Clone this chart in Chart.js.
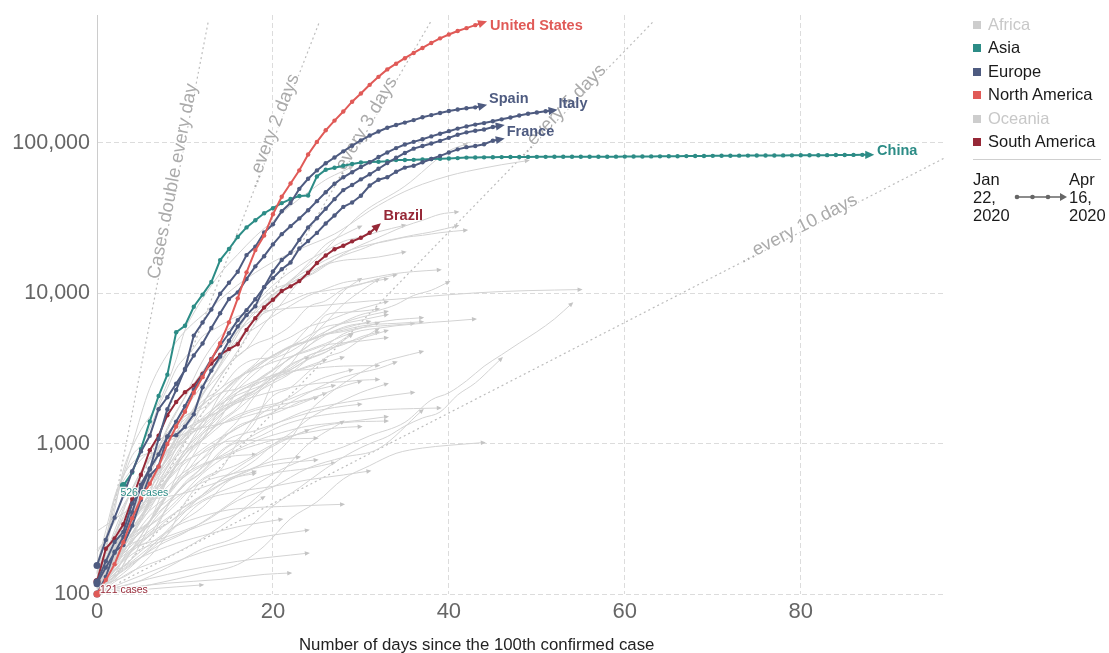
<!DOCTYPE html>
<html>
<head>
<meta charset="utf-8">
<title>Confirmed COVID-19 cases since the 100th case</title>
<script src="https://cdn.jsdelivr.net/npm/chart.js@4.4.1/dist/chart.umd.min.js"></script>
<style>
  body { margin: 0; background: #fff; font-family: "Liberation Sans", Arial, sans-serif; }
  #wrap { position: relative; width: 1109px; height: 653px; overflow: hidden; }
  #chart { position: absolute; left: 0; top: 0; }
  .key { position: absolute; left: 973px; font-size: 16.5px; line-height: 20px; color: #1a1a1a; white-space: nowrap; }
  .key i { display: inline-block; width: 8px; height: 8px; margin-right: 7px; vertical-align: 1px; }
  .key.off { color: #c8c8c8; }
  #sep { position: absolute; left: 973px; top: 159px; width: 128px; height: 1px; background: #cfcfcf; }
  .date { position: absolute; top: 170px; font-size: 16.5px; line-height: 18px; color: #1a1a1a; }
  #timeline { position: absolute; left: 1010px; top: 190px; }
  #xtitle { position: absolute; left: 299px; top: 635px; font-size: 16.8px; line-height: 20px; color: #222; white-space: nowrap; }
</style>
</head>
<body>
<div id="wrap">
  <canvas id="chart" width="1109" height="653"></canvas>
  <div id="legend"></div>
  <div id="sep"></div>
  <div class="date" style="left:973px">Jan<br>22,<br>2020</div>
  <svg id="timeline" width="60" height="14">
    <line x1="5" y1="7" x2="52" y2="7" stroke="#666" stroke-width="1.5"/>
    <circle cx="7" cy="7" r="2.3" fill="#666"/>
    <circle cx="22.5" cy="7" r="2.3" fill="#666"/>
    <circle cx="38" cy="7" r="2.3" fill="#666"/>
    <polygon points="50,3 57,7 50,11" fill="#666"/>
  </svg>
  <div class="date" style="left:1069px">Apr<br>16,<br>2020</div>
  <div id="xtitle">Number of days since the 100th confirmed case</div>
</div>
<script>
// axis ranges and ticks
const dayMax = 96.4;
const casesMin = 100;
const casesMax = 710000;
const xTickValues = [0, 20, 40, 60, 80];
const yTickValues = [100, 1000, 10000, 100000];

// highlighted countries, one value per day since the 100th case
const usCases = [100,124,158,221,319,435,541,704,994,1301,1630,2183,2770,3613,4661,6411,9259,13789,19383,24207,33566,43847,53740,65778,83836,101657,121478,140886,161807,188172,213242,243622,275367,308650,336802,366317,397121,428654,462780,496535,526396,555313,580619,607670,636350];
const spainCases = [120,165,222,259,400,500,673,1073,1695,2277,3146,5232,6391,7798,9942,11748,13910,17963,20410,25374,28768,35136,39885,49515,57786,65719,73235,80110,87956,95923,104118,112065,119199,126168,131646,136675,141942,148220,153222,158273,163027,166831,170099,172541,177644];
const italyCases = [155,229,322,453,655,888,1128,1694,2036,2502,3089,3858,4636,5883,7375,9172,10149,12462,15113,17660,21157,24747,27980,31506,35713,41035,47021,53578,59138,63927,69176,74386,80589,86498,92472,97689,101739,105792,110574,115242,119827,124632,128948,132547,135586,139422,143626,147577,152271,156363,159516,162488,165155];
const germanyCases = [117,150,188,240,349,534,684,847,1112,1139,1296,1567,2369,3062,3795,4838,6012,7156,8198,10999,13957,16662,18610,22672,27436,31554,36508,42288,48582,52547,57298,61913,67366,73522,79696,85778,91714,95391,99225,103228,108202,113525,117658,120479,123016,127584,130450];
const franceCases = [100,130,191,212,285,423,613,706,1116,1402,1774,2281,2876,3661,4499,5423,6633,7730,9134,10995,12612,14459,16018,19856,22304,25233,29155,32964,37575,40174,44550,52128,56989,59105,64338,68605,70478,74390,78167,82048,86334,90676,93790,95403,98076,103573,106206];
const chinaStartDay = 3;
const chinaCases = [526,643,920,1406,2075,2877,5509,6087,8141,9802,11891,16630,19716,23707,27440,30587,34110,36814,39829,42354,44386,44759,59895,66358,68413,70513,72434,74211,74619,75077,75550,77001,77022,77241,77754,78166,78600,78928,79356,79932,80136,80261,80386,80537,80690,80770,80823,80860,80887,80921,80932,80945,80977,81003,81033,81058,81102,81156,81250,81305,81435,81498,81591,81661,81782,81897,81999,82122,82198,82279,82361,82432,82511,82543,82602,82665,82718,82809,82883,82941,83014,83134,83213,83306,83356,83403];
const brazilCases = [121,200,234,291,428,621,904,1128,1546,1891,2201,2433,2915,3417,3904,4256,4579,5717,6836,8044,9056,10360,11130,12056,13717,15927,17857,19638,20727,22169,23430,25262,28320];

// the grey countries, [day, cases]
const otherCountries = [
  ['United Kingdom', [[0,115],[5,373],[10,1372],[15,3983],[20,9529],[25,17089],[30,33718],[35,51608],[40,88621],[42,98476]]],
  ['Iran', [[0,139],[2,388],[4,978],[6,2336],[9,4747],[13,8042],[16,11364],[20,16169],[23,19644],[27,24811],[29,29406],[31,35408],[33,41495],[35,47593],[37,53183],[40,60500],[42,64586],[44,68192],[46,71686],[49,76389]]],
  ['Turkey', [[0,100],[1,191],[2,359],[3,670],[4,947],[5,1236],[7,1872],[9,3629],[10,5698],[11,7402],[12,9217],[14,13531],[16,18135],[18,23934],[20,30217],[22,38226],[24,47029],[26,56956],[28,65111],[29,69392]]],
  ['Belgium', [[0,109],[3,267],[5,314],[7,689],[9,1085],[11,1486],[13,2257],[15,3401],[17,4269],[19,6235],[21,8605],[23,11899],[25,13964],[27,16770],[29,19691],[31,22194],[33,24983],[35,28018],[37,30589],[39,33573],[41,34809]]],
  ['Netherlands', [[0,128],[2,265],[4,503],[6,804],[8,1135],[10,1705],[12,2460],[14,3631],[16,5560],[18,7431],[20,9762],[22,11750],[24,13614],[26,15723],[28,17851],[30,19580],[32,21762],[34,23097],[36,24413],[38,25587],[41,28153]]],
  ['Switzerland', [[0,114],[3,264],[5,491],[7,652],[9,1139],[11,2200],[13,2742],[15,4222],[17,6575],[19,8795],[21,10897],[23,13213],[25,15475],[27,17768],[29,19606],[31,21100],[33,22242],[35,23574],[37,24308],[39,25300],[42,26336]]],
  ['Canada', [[0,103],[2,193],[4,304],[6,569],[8,873],[10,1328],[12,2091],[14,3409],[16,5655],[18,8527],[20,11283],[22,13912],[24,16563],[26,19141],[28,22148],[30,23719],[32,25680],[35,28364]]],
  ['Russia', [[0,114],[2,199],[4,306],[6,438],[8,658],[10,1036],[12,1836],[14,2777],[16,4149],[18,6343],[20,8672],[22,11917],[24,15770],[26,21102],[28,24490],[30,27938]]],
  ['Portugal', [[0,112],[2,169],[4,331],[6,642],[8,1280],[10,2060],[12,3544],[14,5170],[16,6408],[18,8251],[20,10524],[22,11730],[24,13141],[26,15472],[28,16585],[30,16934],[32,17448],[35,18841]]],
  ['Israel', [[0,143],[2,250],[4,427],[6,705],[8,1238],[10,2030],[12,3035],[14,4347],[16,5591],[18,6857],[20,7851],[22,8904],[24,9968],[26,10408],[28,10878],[30,11586],[33,12501]]],
  ['Austria', [[0,104],[2,182],[4,302],[6,655],[8,1016],[10,1646],[12,2814],[14,3582],[16,4876],[18,5888],[20,7029],[22,8271],[24,9618],[26,10711],[28,11781],[30,12297],[32,12942],[34,13555],[36,13945],[39,14336]]],
  ['Sweden', [[0,137],[2,248],[4,500],[6,814],[8,1022],[10,1167],[12,1279],[14,1623],[16,1934],[18,2510],[20,3069],[22,3700],[24,4435],[26,5568],[28,6443],[30,7206],[32,7693],[34,8419],[36,9685],[38,10483],[40,11927]]],
  ['Ireland', [[0,129],[2,169],[4,292],[6,557],[8,785],[10,1329],[12,2121],[14,2910],[16,3849],[18,4604],[20,5111],[22,6074],[24,8089],[26,8928],[28,10647],[30,11479],[32,12547],[34,13271]]],
  ['India', [[0,107],[2,137],[4,173],[6,283],[8,396],[10,536],[12,657],[14,887],[16,1071],[18,1397],[20,2543],[22,3374],[24,4778],[26,6412],[28,8446],[30,10363],[32,12380]]],
  ['Peru', [[0,117],[2,234],[4,318],[6,416],[8,580],[10,852],[12,1065],[14,1414],[16,1746],[18,2561],[20,3101],[22,4342],[24,5897],[26,7519],[28,10303],[30,12491]]],
  ['Ecuador', [[0,111],[2,199],[4,367],[6,532],[8,981],[10,1403],[12,1924],[14,2302],[16,3163],[18,3646],[20,3747],[22,4450],[24,4965],[26,7161],[28,7466],[30,7603],[32,7858]]],
  ['Chile', [[0,155],[2,201],[4,342],[6,537],[8,746],[10,1142],[12,1610],[14,2139],[16,2738],[18,3404],[20,4471],[22,5116],[24,5972],[26,6501],[28,7213],[30,7917],[33,8807]]],
  ['Poland', [[0,104],[2,177],[4,251],[6,425],[8,634],[10,901],[12,1389],[14,1862],[16,2311],[18,2946],[20,3627],[22,4102],[24,4848],[26,5575],[28,6356],[30,6934],[33,7582]]],
  ['Romania', [[0,123],[2,168],[4,246],[6,308],[8,576],[10,906],[12,1292],[14,2109],[16,2738],[18,3183],[20,3864],[22,4417],[24,5202],[26,5990],[28,6300],[30,6633],[33,7216]]],
  ['Saudi Arabia', [[0,103],[2,171],[4,274],[6,392],[8,562],[10,900],[12,1203],[14,1563],[16,1885],[18,2179],[20,2523],[22,2932],[24,3651],[26,4462],[28,5369],[30,5862],[32,6380]]],
  ['Pakistan', [[0,187],[2,302],[4,495],[6,776],[8,1179],[10,1526],[12,1717],[14,2118],[16,2686],[18,3277],[20,3864],[22,4413],[24,4788],[26,5374],[28,5837],[31,6505]]],
  ['Mexico', [[0,118],[2,164],[4,251],[6,367],[8,585],[10,848],[12,1094],[14,1378],[16,1688],[18,2143],[20,2785],[22,3181],[24,3844],[26,4219],[29,5399]]],
  ['Denmark', [[0,156],[1,264],[2,444],[3,617],[5,827],[7,875],[9,977],[11,1303],[13,1572],[15,2023],[17,2366],[19,2860],[21,3386],[23,4077],[25,4875],[27,5635],[29,6174],[31,6318],[34,6681],[37,6879]]],
  ['Norway', [[0,108],[2,176],[4,400],[6,621],[8,1090],[10,1256],[12,1423],[14,1742],[16,1926],[18,2263],[20,2916],[22,3755],[24,4196],[26,4641],[28,5208],[30,5640],[32,5865],[34,6086],[36,6244],[38,6409],[40,6525],[43,6740]]],
  ['Australia', [[0,107],[2,128],[4,200],[6,298],[8,452],[10,681],[12,1071],[14,1709],[16,2423],[18,3166],[20,3809],[22,4359],[24,4862],[26,5350],[28,5687],[30,6052],[32,6238],[34,6313],[37,6462]]],
  ['Czechia', [[0,116],[2,214],[4,298],[6,464],[8,694],[10,1047],[12,1394],[14,1925],[16,2631],[18,3308],[20,3858],[22,4472],[24,4822],[26,5312],[28,5569],[30,5902],[33,6111],[36,6303]]],
  ['Japan', [[0,105],[4,160],[7,210],[10,256],[14,360],[18,530],[21,675],[24,800],[28,950],[31,1128],[35,1387],[38,1953],[40,2178],[42,2617],[44,3271],[46,3906],[48,4667],[50,5548],[52,6748],[54,8582]]],
  ['South Korea', [[0,104],[1,204],[2,433],[3,602],[4,833],[5,977],[6,1261],[7,1766],[8,2337],[9,3150],[10,3736],[11,4335],[12,5186],[13,5621],[14,6088],[15,6593],[16,7041],[17,7314],[18,7478],[20,7755],[22,7979],[25,8236],[28,8565],[31,8897],[34,9137],[37,9478],[40,9786],[43,10062],[46,10284],[49,10423],[52,10512],[55,10591]]],
  ['Philippines', [[0,111],[2,142],[4,202],[6,230],[8,380],[10,552],[12,707],[14,1075],[16,1418],[18,2084],[20,2633],[22,3094],[24,3660],[26,4076],[28,4648],[30,5000],[33,5660]]],
  ['Indonesia', [[0,117],[2,172],[4,309],[6,450],[8,579],[10,790],[12,1155],[14,1528],[16,1986],[18,2273],[20,2738],[22,3293],[24,3842],[26,4241],[28,4557],[30,5136],[32,5516]]],
  ['Malaysia', [[0,197],[1,238],[2,428],[3,566],[4,673],[6,900],[8,1183],[10,1518],[12,1796],[14,2320],[16,2766],[18,3116],[20,3483],[22,3793],[24,4119],[26,4530],[28,4683],[30,4817],[33,5072]]],
  ['United Arab Emirates', [[0,113],[4,140],[8,248],[10,405],[12,570],[14,664],[16,1024],[18,1505],[20,2076],[22,2359],[24,2990],[26,3736],[28,4123],[30,4933],[32,5825]]],
  ['Qatar', [[0,262],[5,401],[10,470],[14,562],[18,693],[20,835],[22,1075],[24,1604],[26,2057],[28,2512],[30,2979],[32,3428],[34,3711],[37,4103]]],
  ['Serbia', [[0,103],[2,135],[4,222],[6,303],[8,457],[10,785],[12,1060],[14,1476],[16,2200],[18,2447],[20,2867],[22,3105],[24,3630],[26,4054],[29,5318]]],
  ['Singapore', [[0,106],[4,117],[8,150],[12,200],[16,243],[20,385],[23,509],[26,683],[29,879],[31,1000],[33,1114],[35,1309],[37,1481],[39,1623],[41,2108],[43,2532],[45,3252],[46,3699]]],
  ['Ukraine', [[0,113],[2,218],[4,356],[6,548],[8,804],[10,1225],[12,1462],[14,1668],[16,2203],[18,2511],[20,2777],[22,3372],[24,3764]]],
  ['Luxembourg', [[0,130],[2,203],[4,335],[6,670],[8,1099],[10,1453],[12,1831],[14,2178],[16,2319],[18,2612],[20,2843],[22,3034],[24,3115],[26,3223],[28,3281],[32,3307]]],
  ['Finland', [[0,155],[2,225],[4,272],[6,359],[8,450],[10,626],[12,880],[14,1041],[16,1313],[18,1446],[20,1615],[22,1882],[24,2176],[26,2487],[28,2769],[30,2974],[32,3161],[34,3489]]],
  ['Panama', [[0,137],[2,245],[4,345],[6,558],[8,786],[10,1075],[12,1317],[14,1673],[16,1988],[18,2249],[20,2752],[22,2974],[24,3234],[26,3472],[28,3751]]],
  ['Dominican Republic', [[0,112],[2,245],[4,392],[6,581],[8,901],[10,1109],[12,1488],[14,1828],[16,2111],[18,2349],[20,2620],[22,2967],[24,3286],[26,3614]]],
  ['Colombia', [[0,102],[2,145],[4,196],[6,306],[8,470],[10,608],[12,798],[14,1065],[16,1267],[18,1485],[20,1780],[22,2054],[24,2473],[26,2776],[29,3105]]],
  ['South Africa', [[0,116],[2,150],[4,240],[6,402],[8,709],[10,1170],[12,1280],[14,1353],[16,1462],[18,1585],[20,1686],[22,1749],[24,1934],[26,2173],[28,2415],[30,2605]]],
  ['Egypt', [[0,109],[2,126],[4,196],[6,256],[8,294],[10,366],[12,456],[14,576],[16,656],[18,779],[20,985],[22,1173],[24,1450],[26,1699],[28,1939],[30,2190],[33,2505]]],
  ['Algeria', [[0,139],[3,264],[6,409],[9,716],[12,1171],[15,1423],[18,1666],[21,1825],[24,1983],[26,2160]]],
  ['Morocco', [[0,115],[3,225],[6,402],[9,654],[12,919],[15,1184],[18,1448],[21,1661],[23,1888],[25,2024]]],
  ['Thailand', [[0,114],[2,177],[4,272],[6,411],[8,827],[10,1045],[12,1388],[14,1651],[16,1875],[18,2067],[20,2220],[22,2369],[24,2473],[26,2551],[28,2579],[30,2643],[32,2672]]],
  ['Argentina', [[0,128],[3,266],[6,502],[9,820],[12,1054],[15,1451],[18,1715],[21,1894],[24,2208],[27,2443]]],
  ['Greece', [[0,101],[3,190],[6,331],[9,464],[12,695],[15,892],[18,1156],[21,1415],[24,1673],[27,1832],[30,1955],[33,2081],[36,2192]]],
  ['Iceland', [[0,103],[3,199],[6,250],[9,473],[12,648],[15,963],[18,1086],[21,1319],[24,1486],[27,1586],[30,1648],[33,1689],[36,1711],[39,1727]]],
  ['Hong Kong', [[0,100],[6,115],[12,138],[16,157],[19,208],[22,317],[25,410],[28,582],[31,714],[34,862],[37,935],[40,975],[44,1017]]],
  ['Taiwan', [[0,108],[3,153],[6,215],[9,283],[12,329],[15,363],[18,376],[21,382],[24,388],[28,395]]],
  ['New Zealand', [[0,102],[3,262],[6,451],[9,708],[12,868],[15,1039],[18,1049],[21,1072],[25,1086]]],
  ['Lebanon', [[0,110],[4,157],[8,248],[12,412],[16,479],[20,520],[24,575],[28,619],[31,658]]],
  ['Kazakhstan', [[0,111],[4,228],[8,348],[12,584],[16,727],[20,990],[24,1232]]],
  ['Bulgaria', [[0,127],[4,201],[8,293],[12,422],[16,531],[20,635],[24,685],[27,747]]],
  ['Tunisia', [[0,114],[4,227],[8,394],[12,553],[16,643],[20,726],[25,780]]],
  ['Senegal', [[0,105],[4,162],[8,207],[12,244],[16,280],[21,314]]],
  ['Nigeria', [[0,111],[4,184],[8,232],[12,288],[16,343],[19,442]]],
  ['Ghana', [[0,137],[3,152],[6,205],[9,287],[12,378],[15,566],[18,636]]],
  ['Cameroon', [[0,113],[3,193],[6,306],[9,555],[12,730],[15,820],[18,848]]],
  ["Cote d'Ivoire", [[0,101],[3,168],[6,245],[9,349],[12,444],[15,574],[18,654]]],
  ['Cuba', [[0,119],[4,212],[8,320],[12,457],[16,620],[20,766],[23,814]]],
  ['Kuwait', [[0,100],[4,142],[8,176],[12,235],[16,343],[20,556],[24,993],[28,1405]]],
  ['Iraq', [[0,101],[4,154],[8,266],[12,458],[16,694],[20,961],[24,1232],[28,1378],[33,1415]]],
  ['Croatia', [[0,105],[3,206],[6,382],[9,586],[12,790],[15,1079],[18,1222],[21,1407],[24,1600],[27,1741],[30,1832]]],
  ['Slovenia', [[0,141],[3,219],[6,286],[9,414],[12,632],[15,841],[18,977],[21,1091],[24,1188],[27,1268],[30,1300]]],
  ['Estonia', [[0,115],[3,225],[6,306],[9,538],[12,715],[15,858],[18,1039],[21,1185],[24,1309],[27,1373],[30,1434],[33,1512]]],
  ['Bahrain', [[0,110],[4,195],[8,241],[12,298],[16,419],[20,515],[24,688],[28,811],[32,925],[37,1671]]],
  ['Brunei', [[0,100],[6,108],[12,115]]],
  ['Cambodia', [[0,104],[8,118],[14,125],[19,135],[22,138]]],
  ['Sri Lanka', [[0,102],[8,135],[16,165],[24,187]]],
  ['Jordan', [[0,101],[6,140],[12,190],[18,235],[24,266]]]
];

// doubling guide lines
const doublingDays = [1, 2, 3, 5, 10];
const guideTexts = ['Cases double every day', '...every 2 days', '...every 3 days', '...every 5 days', '...every 10 days'];
const guideLabelDays = [9.1, 20.4, 30.6, 53.1, 79.9];
const guideTop = 650000;

// legend
const regions = ['Africa', 'Asia', 'Europe', 'North America', 'Oceania', 'South America'];
const regionColors = ['#cdcdcd', '#2c8c86', '#4e5b80', '#e05a57', '#cdcdcd', '#962837'];
const regionMuted = [true, false, false, false, true, false];

const ASIA = regionColors[1], EUROPE = regionColors[2], NAM = regionColors[3], SAM = regionColors[5];
const GREY = '#d3d3d3';

const highlighted = [
  { name: 'United States', start: 0, values: usCases, color: NAM, dx: 6, dy: 4 },
  { name: 'Spain', start: 0, values: spainCases, color: EUROPE, dx: 5, dy: -6 },
  { name: 'Italy', start: 0, values: italyCases, color: EUROPE, dx: 4, dy: -6 },
  { name: 'France', start: 0, values: franceCases, color: EUROPE, dx: 5, dy: -7 },
  { name: 'Germany', start: 0, values: germanyCases, color: EUROPE, noLabel: true },
  { name: 'China', start: chinaStartDay, values: chinaCases, color: ASIA, dx: 6, dy: -4, startText: '526 cases', sdx: -3, sdy: 8 },
  { name: 'Brazil', start: 0, values: brazilCases, color: SAM, dx: 5, dy: -9, startText: '121 cases', sdx: 3, sdy: 9 }
];

// legend html
const legendEl = document.getElementById('legend');
regions.forEach((r, i) => {
  const d = document.createElement('div');
  d.className = 'key' + (regionMuted[i] ? ' off' : '');
  d.style.top = (14 + i * 23.4) + 'px';
  d.innerHTML = '<i style="background:' + regionColors[i] + '"></i>' + r;
  legendEl.appendChild(d);
});

Chart.defaults.font.family = "'Liberation Sans', Arial, sans-serif";

const datasets = [];
highlighted.forEach(h => {
  const last = h.values.length - 1;
  datasets.push({
    label: h.name,
    data: h.values.map((v, i) => ({ x: h.start + i, y: v })),
    borderColor: h.color,
    backgroundColor: h.color,
    borderWidth: 2,
    pointRadius: c => c.dataIndex === last ? 0 : (c.dataIndex === 0 ? 3.5 : 2.2),
    pointBorderWidth: 0,
    pointHoverRadius: 0,
    tension: 0,
    clip: false,
    arrowSize: 9,
    info: h
  });
});
otherCountries.forEach(([name, pts]) => {
  datasets.push({
    label: name,
    data: pts.map(p => ({ x: p[0], y: p[1] })),
    borderColor: GREY,
    borderWidth: 1,
    pointRadius: 0,
    cubicInterpolationMode: 'monotone',
    clip: false,
    arrowSize: 5
  });
});
doublingDays.forEach((p, i) => {
  datasets.push({
    label: guideTexts[i],
    data: [{ x: 0, y: casesMin }, { x: p * Math.log2(guideTop / casesMin), y: guideTop }],
    borderColor: '#bdbdbd',
    borderWidth: 1.2,
    borderDash: [2, 3],
    pointRadius: 0,
    guide: { period: p, day: guideLabelDays[i], text: guideTexts[i] }
  });
});

const decor = {
  id: 'decor',
  afterDatasetDraw(chart, args) {
    const ds = chart.data.datasets[args.index];
    const pts = args.meta.data;
    const ctx = chart.ctx;
    if (ds.guide) {
      const g = ds.guide;
      const xs = chart.scales.x, ys = chart.scales.y;
      const ang = Math.atan2(pts[1].y - pts[0].y, pts[1].x - pts[0].x);
      const px = xs.getPixelForValue(g.day);
      const py = ys.getPixelForValue(casesMin * Math.pow(2, g.day / g.period));
      ctx.save();
      ctx.translate(px, py);
      ctx.rotate(ang);
      ctx.font = "18.5px 'Liberation Sans', Arial, sans-serif";
      ctx.textAlign = 'center';
      ctx.textBaseline = 'alphabetic';
      ctx.lineWidth = 3;
      ctx.strokeStyle = '#fff';
      ctx.strokeText(g.text, 0, 1);
      ctx.fillStyle = '#ababab';
      ctx.fillText(g.text, 0, 1);
      ctx.restore();
      return;
    }
    if (!ds.arrowSize || pts.length < 2) return;
    const a = pts[pts.length - 2], b = pts[pts.length - 1];
    const ang = Math.atan2(b.y - a.y, b.x - a.x);
    const s = ds.arrowSize;
    ctx.save();
    ctx.translate(b.x, b.y);
    ctx.rotate(ang);
    ctx.fillStyle = ds.borderColor === GREY ? '#c4c4c4' : ds.borderColor;
    ctx.beginPath();
    ctx.moveTo(s * 0.35, 0);
    ctx.lineTo(-s * 0.65, -s * 0.45);
    ctx.lineTo(-s * 0.65, s * 0.45);
    ctx.closePath();
    ctx.fill();
    ctx.restore();
  },
  afterDraw(chart) {
    const ctx = chart.ctx;
    chart.data.datasets.forEach((ds, i) => {
      const h = ds.info;
      if (!h) return;
      const pts = chart.getDatasetMeta(i).data;
      ctx.save();
      ctx.textAlign = 'left';
      ctx.textBaseline = 'middle';
      ctx.fillStyle = h.color;
      if (!h.noLabel) {
        const e = pts[pts.length - 1];
        ctx.font = "bold 14.5px 'Liberation Sans', Arial, sans-serif";
        ctx.fillText(h.name, e.x + h.dx, e.y + h.dy);
      }
      if (h.startText) {
        const s = pts[0];
        ctx.font = "10.5px 'Liberation Sans', Arial, sans-serif";
        ctx.lineWidth = 2.5;
        ctx.strokeStyle = 'rgba(255,255,255,0.9)';
        ctx.strokeText(h.startText, s.x + h.sdx, s.y + h.sdy);
        ctx.fillText(h.startText, s.x + h.sdx, s.y + h.sdy);
      }
      ctx.restore();
    });
  }
};

new Chart(document.getElementById('chart'), {
  type: 'line',
  data: { datasets },
  options: {
    responsive: false,
    animation: false,
    events: [],
    layout: { padding: { left: 0, right: 164, top: 15, bottom: 0 } },
    plugins: { legend: { display: false }, tooltip: { enabled: false } },
    scales: {
      x: {
        type: 'linear',
        min: 0,
        max: dayMax,
        afterBuildTicks: axis => { axis.ticks = xTickValues.map(v => ({ value: v })); },
        afterFit: axis => { axis.height = 59; axis.paddingLeft = 0; axis.paddingRight = 0; },
        ticks: { color: '#666', font: { size: 22 }, padding: 5 },
        grid: { color: '#dcdcdc', drawTicks: false },
        border: { display: false, dash: [5, 3] }
      },
      y: {
        type: 'logarithmic',
        min: casesMin,
        max: casesMax,
        afterBuildTicks: axis => { axis.ticks = yTickValues.map(v => ({ value: v })); },
        afterFit: axis => { axis.width = 97; axis.paddingTop = 0; axis.paddingBottom = 0; },
        ticks: {
          color: '#666',
          font: { size: 21.5 },
          padding: 7,
          callback: v => Number(v).toLocaleString('en-US')
        },
        grid: { color: '#dcdcdc', drawTicks: false },
        border: { display: true, color: '#cccccc', width: 1, dash: [5, 3] }
      }
    }
  },
  plugins: [decor]
});
</script>
</body>
</html>
